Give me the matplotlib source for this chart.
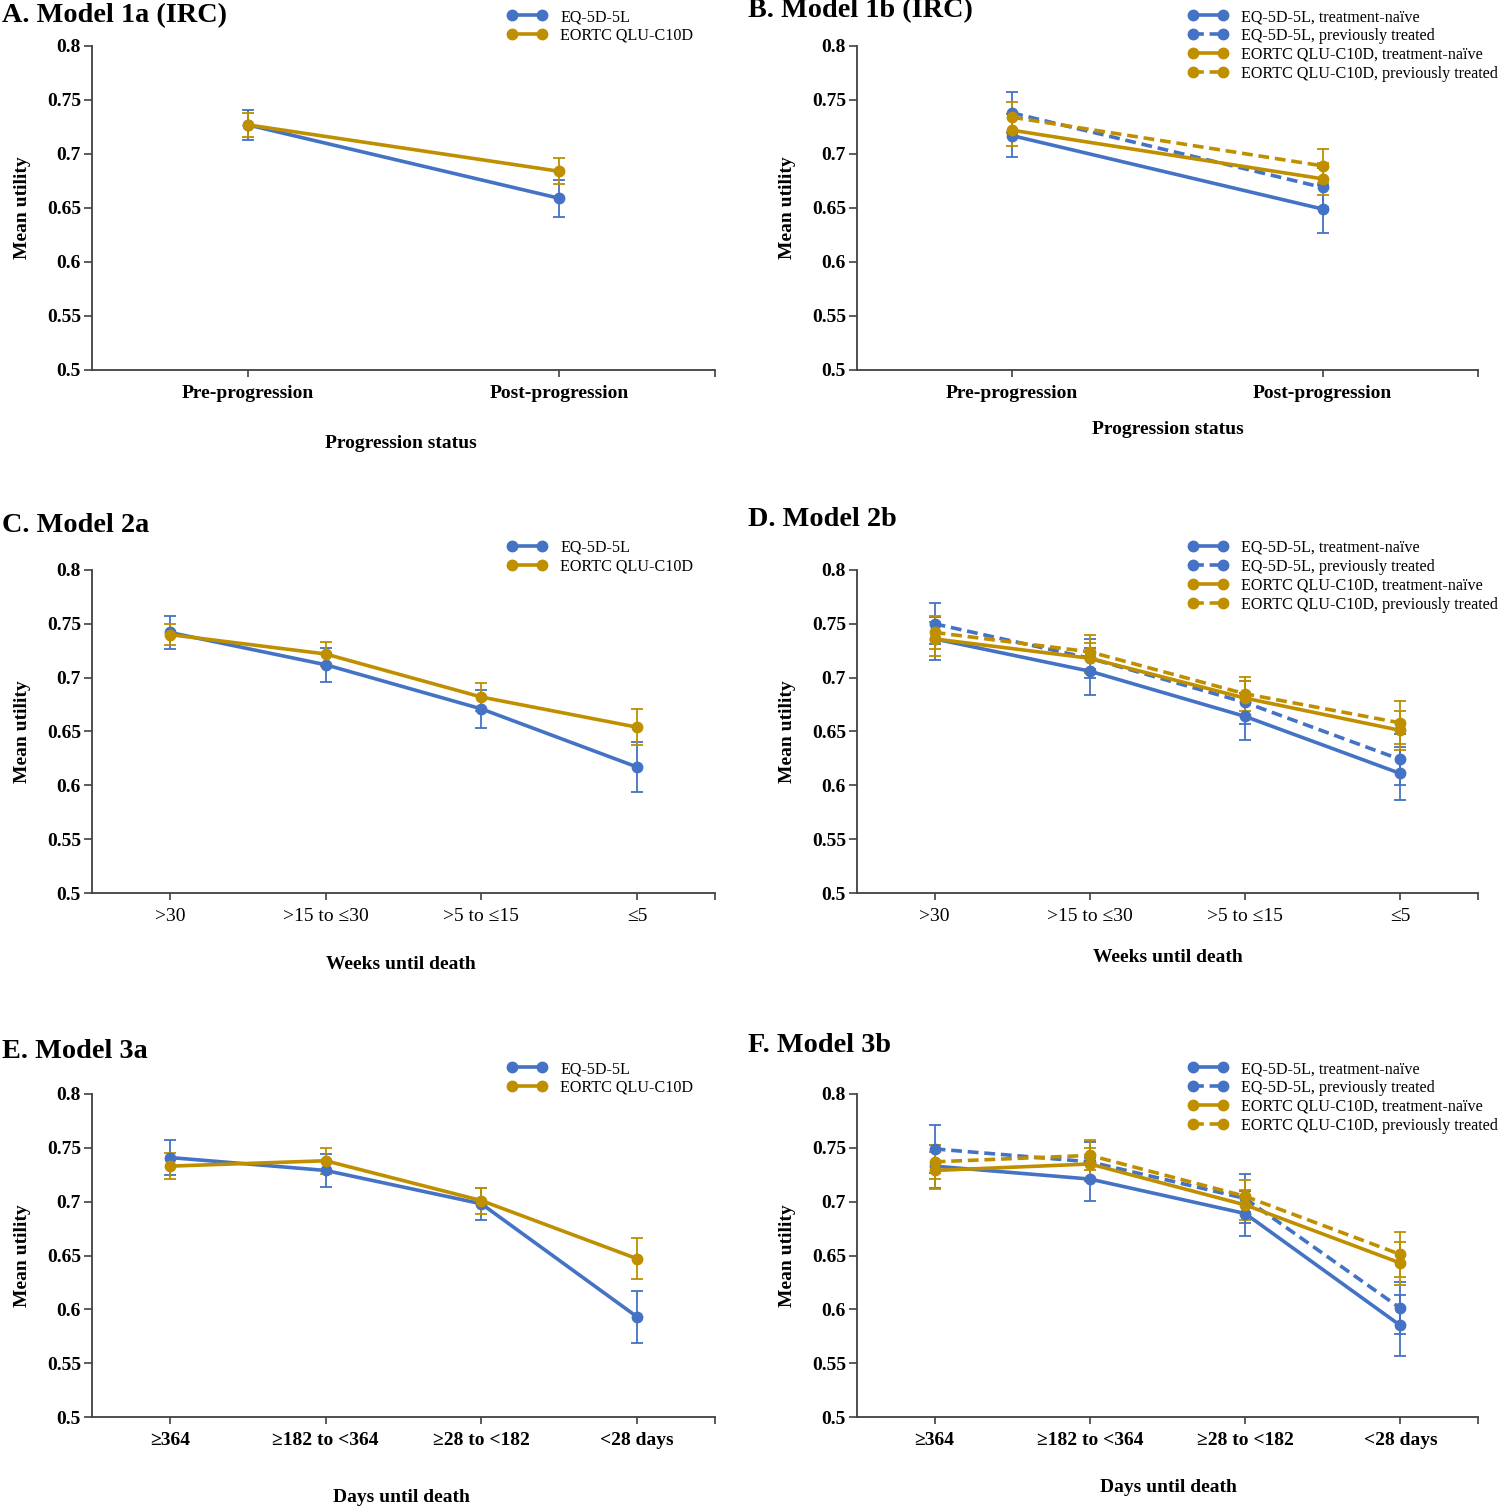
import matplotlib
matplotlib.use("Agg")
import matplotlib.pyplot as plt
from matplotlib.lines import Line2D

plt.rcParams['font.family'] = ['Liberation Serif', 'DejaVu Serif']

# categories
progression = ['Pre-progression', 'Post-progression']
weeks = ['>30', '>15 to \u226430', '>5 to \u226415', '\u22645']
days = ['\u2265364', '\u2265182 to <364', '\u226528 to <182', '<28 days']

# Model 1a
eq_1a = [0.727, 0.659]
eq_1a_err = [0.014, 0.017]
qlu_1a = [0.727, 0.684]
qlu_1a_err = [0.011, 0.012]

# Model 1b
eq_naive_1b = [0.717, 0.649]
eq_naive_1b_err = [0.020, 0.022]
eq_prev_1b = [0.738, 0.669]
eq_prev_1b_err = [0.019, 0.018]
qlu_naive_1b = [0.722, 0.677]
qlu_naive_1b_err = [0.015, 0.015]
qlu_prev_1b = [0.734, 0.689]
qlu_prev_1b_err = [0.014, 0.016]

# Model 2a
eq_2a = [0.742, 0.712, 0.671, 0.617]
eq_2a_err = [0.015, 0.016, 0.018, 0.023]
qlu_2a = [0.740, 0.722, 0.682, 0.654]
qlu_2a_err = [0.010, 0.011, 0.013, 0.017]

# Model 2b
eq_naive_2b = [0.736, 0.706, 0.664, 0.611]
eq_naive_2b_err = [0.020, 0.022, 0.022, 0.025]
eq_prev_2b = [0.750, 0.718, 0.677, 0.624]
eq_prev_2b_err = [0.019, 0.018, 0.020, 0.024]
qlu_naive_2b = [0.736, 0.718, 0.681, 0.651]
qlu_naive_2b_err = [0.016, 0.014, 0.016, 0.018]
qlu_prev_2b = [0.742, 0.724, 0.685, 0.658]
qlu_prev_2b_err = [0.015, 0.016, 0.016, 0.020]

# Model 3a
eq_3a = [0.741, 0.729, 0.698, 0.593]
eq_3a_err = [0.016, 0.015, 0.015, 0.024]
qlu_3a = [0.733, 0.738, 0.701, 0.647]
qlu_3a_err = [0.012, 0.012, 0.012, 0.019]

# Model 3b
eq_naive_3b = [0.733, 0.721, 0.689, 0.585]
eq_naive_3b_err = [0.020, 0.020, 0.021, 0.028]
eq_prev_3b = [0.749, 0.737, 0.703, 0.601]
eq_prev_3b_err = [0.022, 0.018, 0.023, 0.024]
qlu_naive_3b = [0.729, 0.735, 0.697, 0.643]
qlu_naive_3b_err = [0.017, 0.015, 0.014, 0.020]
qlu_prev_3b = [0.737, 0.743, 0.705, 0.651]
qlu_prev_3b_err = [0.016, 0.014, 0.015, 0.021]

BLUE = '#4472C4'
GOLD = '#BF8F00'
DASH = (0, (3, 1.6))
W, H = 1500, 1509
LW = 2.6
MS = 7.5

fig = plt.figure(figsize=(W / 100, H / 100), dpi=100)


def px_axes(left, top, right, bottom):
    return fig.add_axes([left / W, 1 - bottom / H, (right - left) / W, (bottom - top) / H])


def draw_series(ax, vals, err, color, ls):
    x = list(range(len(vals)))
    ax.errorbar(x, vals, yerr=err, color=color, ls=ls, lw=LW, marker='o', ms=MS,
                ecolor=color, elinewidth=1.3, capsize=4, capthick=1.3, zorder=3)


def style_axes(ax, cats, bold_ticks=True):
    n = len(cats)
    ax.set_xlim(-0.5, n - 0.5)
    ax.set_ylim(0.5, 0.8)
    ax.set_yticks([0.5, 0.55, 0.6, 0.65, 0.7, 0.75, 0.8])
    ax.set_yticklabels(['0.5', '0.55', '0.6', '0.65', '0.7', '0.75', '0.8'],
                       fontsize=14, fontweight='bold')
    ax.set_xticks(range(n))
    ax.set_xticklabels(cats, fontsize=14, fontweight='bold' if bold_ticks else 'normal')
    ax.set_xticks([n - 0.5], minor=True)
    ax.tick_params(axis='x', which='both', length=5, width=1.2, pad=6, color='#404040')
    ax.tick_params(axis='y', length=6, width=1.2, pad=2, color='#404040')
    for s in ['top', 'right']:
        ax.spines[s].set_visible(False)
    for s in ['left', 'bottom']:
        ax.spines[s].set_linewidth(1.3)
        ax.spines[s].set_color('#404040')
    ax.set_ylabel('Mean utility', fontsize=14, fontweight='bold', labelpad=11)


def add_legend(ax, entries, x, y):
    handles = [Line2D([0], [0], color=c, ls=ls, lw=LW, marker='o', ms=MS) for c, ls, _ in entries]
    labels = [lab for _, _, lab in entries]
    ax.legend(handles, labels, loc='upper left', bbox_to_anchor=(x / W, 1 - y / H),
              bbox_transform=fig.transFigure, frameon=False, numpoints=2,
              handlelength=2.5, handletextpad=0.8, labelspacing=0.18,
              fontsize=11.6, borderaxespad=0, borderpad=0)


two_series = [(BLUE, '-', 'EQ-5D-5L'), (GOLD, '-', 'EORTC QLU-C10D')]
four_series = [
    (BLUE, '-', 'EQ-5D-5L, treatment-na\u00efve'),
    (BLUE, DASH, 'EQ-5D-5L, previously treated'),
    (GOLD, '-', 'EORTC QLU-C10D, treatment-na\u00efve'),
    (GOLD, DASH, 'EORTC QLU-C10D, previously treated'),
]

panels = [
    # left, top, right, bottom
    (92, 46, 715, 370),
    (857, 46, 1478, 370),
    (92, 570, 715, 893),
    (857, 570, 1478, 893),
    (92, 1094, 715, 1417),
    (857, 1094, 1478, 1417),
]

axA = px_axes(*panels[0])
draw_series(axA, eq_1a, eq_1a_err, BLUE, '-')
draw_series(axA, qlu_1a, qlu_1a_err, GOLD, '-')
style_axes(axA, progression)
add_legend(axA, two_series, 507, 9)

axB = px_axes(*panels[1])
draw_series(axB, eq_naive_1b, eq_naive_1b_err, BLUE, '-')
draw_series(axB, eq_prev_1b, eq_prev_1b_err, BLUE, DASH)
draw_series(axB, qlu_naive_1b, qlu_naive_1b_err, GOLD, '-')
draw_series(axB, qlu_prev_1b, qlu_prev_1b_err, GOLD, DASH)
style_axes(axB, progression)
add_legend(axB, four_series, 1188, 9)

axC = px_axes(*panels[2])
draw_series(axC, eq_2a, eq_2a_err, BLUE, '-')
draw_series(axC, qlu_2a, qlu_2a_err, GOLD, '-')
style_axes(axC, weeks, bold_ticks=False)
add_legend(axC, two_series, 507, 540)

axD = px_axes(*panels[3])
draw_series(axD, eq_naive_2b, eq_naive_2b_err, BLUE, '-')
draw_series(axD, eq_prev_2b, eq_prev_2b_err, BLUE, DASH)
draw_series(axD, qlu_naive_2b, qlu_naive_2b_err, GOLD, '-')
draw_series(axD, qlu_prev_2b, qlu_prev_2b_err, GOLD, DASH)
style_axes(axD, weeks, bold_ticks=False)
add_legend(axD, four_series, 1188, 540)

axE = px_axes(*panels[4])
draw_series(axE, eq_3a, eq_3a_err, BLUE, '-')
draw_series(axE, qlu_3a, qlu_3a_err, GOLD, '-')
style_axes(axE, days)
add_legend(axE, two_series, 507, 1061)

axF = px_axes(*panels[5])
draw_series(axF, eq_naive_3b, eq_naive_3b_err, BLUE, '-')
draw_series(axF, eq_prev_3b, eq_prev_3b_err, BLUE, DASH)
draw_series(axF, qlu_naive_3b, qlu_naive_3b_err, GOLD, '-')
draw_series(axF, qlu_prev_3b, qlu_prev_3b_err, GOLD, DASH)
style_axes(axF, days)
add_legend(axF, four_series, 1188, 1061)

# panel titles
titles = [
    ('A. Model 1a (IRC)', 2, 16),
    ('B. Model 1b (IRC)', 748, 11),
    ('C. Model 2a', 2, 525),
    ('D. Model 2b', 748, 520),
    ('E. Model 3a', 2, 1052),
    ('F. Model 3b', 748, 1046),
]
for txt, x, y in titles:
    fig.text(x / W, 1 - y / H, txt, fontsize=20.3, fontweight='bold', ha='left', va='center')

# x axis titles
xlabels = [
    ('Progression status', 401, 443),
    ('Progression status', 1168, 430),
    ('Weeks until death', 401, 965),
    ('Weeks until death', 1168, 958),
    ('Days until death', 401, 1498),
    ('Days until death', 1168, 1487),
]
for txt, x, y in xlabels:
    fig.text(x / W, 1 - y / H, txt, fontsize=14, fontweight='bold', ha='center', va='center')

fig.savefig('out.png', dpi=100, facecolor='white')
